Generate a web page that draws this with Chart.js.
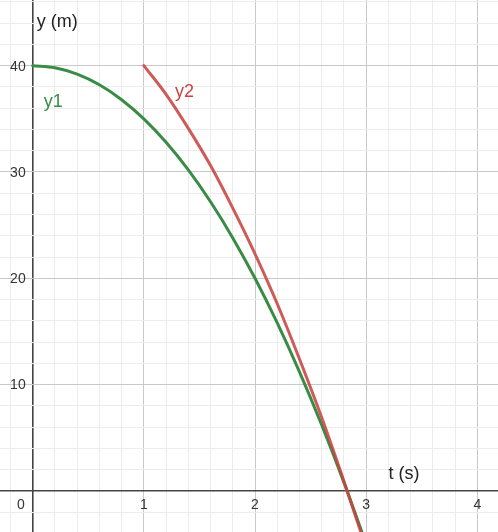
<!DOCTYPE html>
<html>
<head>
<meta charset="utf-8">
<script src="https://cdn.jsdelivr.net/npm/chart.js@4/dist/chart.umd.min.js"></script>
<style>
  html, body { margin: 0; padding: 0; background: #fff; }
  #plot { display: block; }
</style>
</head>
<body>
<canvas id="plot" width="498" height="532"></canvas>
<script>
// values
const t1 = [0, 0.2, 0.4, 0.6, 0.8, 1.0, 1.2, 1.4, 1.6, 1.8, 2.0, 2.2, 2.4, 2.6, 2.8, 3.0];
const y1 = [40, 39.8, 39.2, 38.2, 36.8, 35, 32.8, 30.2, 27.2, 23.8, 20, 15.8, 11.2, 6.2, 0.8, -5];
const t2 = [1.0, 1.2, 1.4, 1.6, 1.8, 2.0, 2.2, 2.4, 2.6, 2.8, 3.0];
const y2 = [40, 37.3, 34.1, 30.6, 26.6, 22.3, 17.6, 12.4, 6.9, 0.9, -5.4];

const xTicks = [0, 1, 2, 3, 4];
const xTickLabels = ['0', '1', '2', '3', '4'];
const yTicks = [10, 20, 30, 40];
const yTickLabels = ['10', '20', '30', '40'];

const GREEN = '#388c46';
const RED = '#c74440';
const LABEL_FONT = '14px "Liberation Sans", Arial, sans-serif';
const TITLE_FONT = '18px "Liberation Sans", Arial, sans-serif';

function isMajor(v) { return Math.abs(v - Math.round(v)) < 1e-6; }

function gridColor(ctx, major) {
    const v = ctx.tick.value;
    if (Math.abs(v) < 1e-6) return '#444';
    return isMajor(v / major) ? '#c9c9c9' : '#ececec';
}

const axisText = {
    id: 'axisText',
    afterDraw(chart) {
        const c = chart.ctx;
        const xs = chart.scales.x, ys = chart.scales.y;
        const x0 = xs.getPixelForValue(0), y0 = ys.getPixelForValue(0);
        c.save();
        c.fillStyle = '#333';
        c.font = LABEL_FONT;
        c.textBaseline = 'middle';

        // x tick labels under the axis (0 goes left of origin)
        xTicks.forEach((v, i) => {
            if (v === 0) {
                c.textAlign = 'right';
                c.fillText(xTickLabels[i], x0 - 8, y0 + 14);
            } else {
                c.textAlign = 'center';
                c.fillText(xTickLabels[i], xs.getPixelForValue(v), y0 + 14);
            }
        });
        // y tick labels left of axis
        c.textAlign = 'right';
        yTicks.forEach((v, i) => {
            c.fillText(yTickLabels[i], x0 - 7, ys.getPixelForValue(v) + 1);
        });

        // axis titles
        c.font = TITLE_FONT;
        c.textBaseline = 'alphabetic';
        c.textAlign = 'left';
        c.fillStyle = '#222';
        c.fillText('y (m)', x0 + 4, 27);
        c.fillText('t (s)', xs.getPixelForValue(3.2), y0 - 12);

        // curve labels
        c.fillStyle = GREEN;
        c.fillText('y1', xs.getPixelForValue(0.1), ys.getPixelForValue(36.1));
        c.fillStyle = RED;
        c.fillText('y2', xs.getPixelForValue(1.28), ys.getPixelForValue(37.1));
        c.restore();
    }
};

new Chart(document.getElementById('plot'), {
    type: 'line',
    data: {
        datasets: [
            {
                label: 'y1',
                order: 2,
                data: t1.map((t, i) => ({ x: t, y: y1[i] })),
                borderColor: GREEN,
                borderWidth: 3,
                pointRadius: 0,
                cubicInterpolationMode: 'monotone',
                borderCapStyle: 'round',
                fill: false
            },
            {
                label: 'y2',
                order: 1,
                data: t2.map((t, i) => ({ x: t, y: y2[i] })),
                borderColor: 'rgba(199, 68, 64, 0.88)',
                borderWidth: 3,
                pointRadius: 0,
                cubicInterpolationMode: 'monotone',
                borderCapStyle: 'round',
                fill: false
            }
        ]
    },
    options: {
        responsive: false,
        animation: false,
        layout: { padding: 0 },
        plugins: { legend: { display: false }, tooltip: { enabled: false } },
        scales: {
            x: {
                type: 'linear',
                min: -0.294,
                max: 4.186,
                ticks: { display: false, stepSize: 0.2, includeBounds: false },
                border: { display: false },
                grid: {
                    drawTicks: false,
                    color: ctx => gridColor(ctx, 1),
                    lineWidth: ctx => Math.abs(ctx.tick.value) < 1e-6 ? 1.6 : 1
                }
            },
            y: {
                type: 'linear',
                min: -3.87,
                max: 46.18,
                ticks: { display: false, stepSize: 2, includeBounds: false },
                border: { display: false },
                grid: {
                    drawTicks: false,
                    color: ctx => gridColor(ctx, 10),
                    lineWidth: ctx => Math.abs(ctx.tick.value) < 1e-6 ? 1.6 : 1
                }
            }
        }
    },
    plugins: [axisText]
});
</script>
</body>
</html>
